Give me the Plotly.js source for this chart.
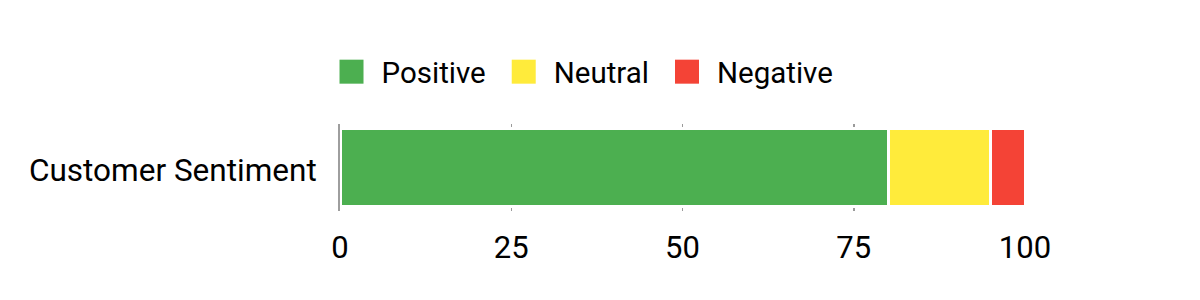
<!DOCTYPE html>
<html>
<head>
<meta charset="utf-8">
<script src="https://cdn.plot.ly/plotly-3.0.1.min.js"></script>
<style>html,body{margin:0;padding:0;background:#fff;}#chart{width:1200px;height:300px;}</style>
</head>
<body>
<div id="chart"></div>
<script>
const categories = ["Customer Sentiment"];
const seriesNames = ["Positive", "Neutral", "Negative"];
const positive = [80];
const neutral = [15];
const negative = [5];
const tickValues = [0, 25, 50, 75, 100];

const colors = ["#4CAF50", "#FFEB3B", "#F44336"];
const values = [positive, neutral, negative];

const traces = seriesNames.map((name, i) => ({
  type: "bar",
  orientation: "h",
  name: name,
  y: categories,
  x: values[i],
  marker: { color: colors[i], line: { color: "#ffffff", width: 3 } },
  hoverinfo: "x+name"
}));

const layout = {
  width: 1200,
  height: 300,
  margin: { l: 340, r: 175, t: 124, b: 89 },
  barmode: "stack",
  bargap: 0.1,
  paper_bgcolor: "#ffffff",
  plot_bgcolor: "#ffffff",
  font: { family: "Roboto, sans-serif", size: 31, color: "#000000" },
  showlegend: true,
  legend: {
    orientation: "h",
    x: -0.0124, xanchor: "left", xref: "paper",
    y: 0.76, yanchor: "middle", yref: "container",
    font: { family: "Roboto, sans-serif", size: 29.5, color: "#000" },
    itemwidth: 40,
    tracegroupgap: 0,
    traceorder: "normal"
  },
  xaxis: {
    range: [0, 100],
    tickvals: tickValues,
    ticktext: tickValues.map(String),
    showgrid: true,
    gridcolor: "#9a9a9a",
    gridwidth: 1.5,
    zeroline: false,
    showline: false,
    ticks: "outside",
    ticklen: 9,
    tickcolor: "rgba(0,0,0,0)",
    tickfont: { family: "Roboto, sans-serif", size: 31, color: "#000" },
    fixedrange: true
  },
  yaxis: {
    showgrid: false,
    zeroline: false,
    showline: true,
    linecolor: "#9e9e9e",
    linewidth: 2,
    ticks: "outside",
    ticklen: 15,
    tickcolor: "rgba(0,0,0,0)",
    tickfont: { family: "Roboto, sans-serif", size: 31.5, color: "#000" },
    fixedrange: true
  }
};

function restyle() {
  const legend = document.querySelector(".legend");
  if (legend) {
    const sb = legend.querySelector(".scrollbox");
    if (sb) sb.removeAttribute("clip-path");
    const groups = Array.from(legend.querySelectorAll(".traces"));
    let x = null;
    const spacing = 18;
    groups.forEach(g => {
      const tr = g.getAttribute("transform") || "";
      const m = tr.match(/translate\(\s*([-\d.]+)[ ,]+([-\d.]+)/);
      const gx = m ? parseFloat(m[1]) : 0;
      const gy = m ? parseFloat(m[2]) : 0;
      if (x === null) x = gx;
      g.setAttribute("transform", "translate(" + x + "," + gy + ")");
      const txt = g.querySelector("text.legendtext");
      const textX = txt ? parseFloat(txt.getAttribute("x")) || 40 : 40;
      g.querySelectorAll(".legendpoints path").forEach(p => {
        p.setAttribute("transform", "translate(" + (textX - 30) + ",0) scale(2)");
        p.style.strokeWidth = "0";
      });
      const w = txt ? txt.getComputedTextLength() : 0;
      x = x + textX + w + spacing;
    });
  }
  document.querySelectorAll(".ytick text").forEach(t => {
    const y = parseFloat(t.getAttribute("y")) || 0;
    t.setAttribute("y", y + 2);
  });
}

Plotly.newPlot("chart", traces, layout, { displayModeBar: false, staticPlot: true }).then(restyle);
</script>
</body>
</html>
